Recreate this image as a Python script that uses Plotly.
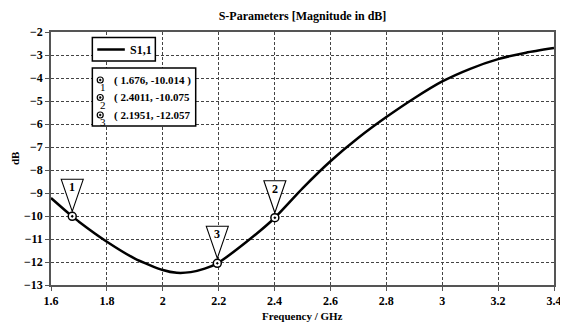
import plotly.graph_objects as go

# ---- data ----
freq = [1.6, 1.65, 1.676, 1.7, 1.8, 1.9, 2.0, 2.05, 2.1, 2.15, 2.1951, 2.3, 2.4011,
        2.5, 2.6, 2.7, 2.8, 2.9, 3.0, 3.1, 3.2, 3.3, 3.4]
s11_db = [-9.22, -9.75, -10.014, -10.25, -11.12, -11.85, -12.35, -12.47, -12.44, -12.29,
          -12.057, -11.12, -10.075, -8.8, -7.62, -6.6, -5.7, -4.88, -4.15, -3.6, -3.18,
          -2.9, -2.7]
series_name = "S1,1"
marker_ids = ["1", "2", "3"]
marker_x = [1.676, 2.4011, 2.1951]
marker_y = [-10.014, -10.075, -12.057]
marker_labels = ["( 1.676, -10.014 )", "( 2.4011, -10.075", "( 2.1951, -12.057"]
x_ticks = [1.6, 1.8, 2.0, 2.2, 2.4, 2.6, 2.8, 3.0, 3.2, 3.4]
x_ticktext = ["1.6", "1.8", "2", "2.2", "2.4", "2.6", "2.8", "3", "3.2", "3.4"]
y_ticks = list(range(-13, -1))

FONT = "Liberation Serif"
OFF = 8  # page body margin compensation
W, H = 568 - OFF, 325 - OFF
# plot area in reference page pixels: x 51..562, y 32..285
ML = 51 - OFF
MT = 32 - OFF
MR = W - (562 - OFF)
MB = H - (285 - OFF)

fig = go.Figure()
fig.add_trace(go.Scatter(x=freq, y=s11_db, mode="lines", name=series_name, showlegend=False,
                         line=dict(color="black", width=2.5, shape="spline", smoothing=0.6)))
fig.add_trace(go.Scatter(x=marker_x, y=marker_y, mode="markers", showlegend=False,
                         marker=dict(symbol="circle-dot", size=8, color="white",
                                     line=dict(color="black", width=1.5))))

pw = W - ML - MR
ph = H - MT - MB
def px(x):  # reference page pixel -> paper
    return (x - OFF - ML) / pw
def py(y):
    return 1 - (y - OFF - MT) / ph

shapes = []
annotations = []
# triangle flags above markers
for mid, mx, my in zip(marker_ids, marker_x, marker_y):
    shapes.append(dict(type="path", xref="x", yref="y", xsizemode="pixel", ysizemode="pixel",
                       xanchor=mx, yanchor=my, path="M -11,37 L 11,37 L 0,5 Z",
                       fillcolor="white", line=dict(color="black", width=1.1), layer="above"))
    annotations.append(dict(x=mx, y=my, xref="x", yref="y", text="<b>%s</b>" % mid,
                            showarrow=False, yshift=29, xanchor="center", yanchor="middle",
                            font=dict(family=FONT, size=12, color="black")))

# legend box (drawn)
shapes.append(dict(type="rect", xref="paper", yref="paper", x0=px(93), x1=px(157),
                   y0=py(61), y1=py(37.5), fillcolor="white", line=dict(color="black", width=1.5),
                   layer="above"))
shapes.append(dict(type="line", xref="paper", yref="paper", x0=px(98), x1=px(126),
                   y0=py(49.5), y1=py(49.5), line=dict(color="black", width=2.5), layer="above"))
annotations.append(dict(x=px(129), y=py(49.5), xref="paper", yref="paper",
                        text="<b>%s</b>" % series_name, showarrow=False, xanchor="left",
                        yanchor="middle", font=dict(family=FONT, size=12, color="black")))

# marker info box
shapes.append(dict(type="rect", xref="paper", yref="paper", x0=px(93), x1=px(198),
                   y0=py(126), y1=py(68), fillcolor="white", line=dict(color="black", width=1.5),
                   layer="above"))
for i, (mid, lab) in enumerate(zip(marker_ids, marker_labels)):
    yc = 80 + i * 17.5
    shapes.append(dict(type="circle", xref="paper", yref="paper", xsizemode="pixel", ysizemode="pixel",
                       xanchor=px(101), yanchor=py(yc), x0=-3, x1=3, y0=-3, y1=3,
                       fillcolor="white", line=dict(color="black", width=1.2), layer="above"))
    shapes.append(dict(type="circle", xref="paper", yref="paper", xsizemode="pixel", ysizemode="pixel",
                       xanchor=px(101), yanchor=py(yc), x0=-1, x1=1, y0=-1, y1=1,
                       fillcolor="black", line=dict(color="black", width=0.5), layer="above"))
    annotations.append(dict(x=px(104), y=py(yc + 7), xref="paper", yref="paper", text=mid,
                            showarrow=False, xanchor="center", yanchor="middle",
                            font=dict(family=FONT, size=11, color="black")))
    annotations.append(dict(x=px(113), y=py(yc), xref="paper", yref="paper", text="<b>%s</b>" % lab,
                            showarrow=False, xanchor="left", yanchor="middle",
                            font=dict(family=FONT, size=11, color="black")))

# axis titles
annotations.append(dict(x=0.5, y=py(316), xref="paper", yref="paper", text="<b>Frequency / GHz</b>",
                        showarrow=False, xanchor="center", yanchor="middle",
                        font=dict(family=FONT, size=11, color="black")))
annotations.append(dict(x=px(14), y=0.5, xref="paper", yref="paper", text="<b>dB</b>", textangle=-90,
                        showarrow=False, xanchor="center", yanchor="middle",
                        font=dict(family=FONT, size=11, color="black")))

axis_common = dict(showline=True, mirror=True, linecolor="#555", linewidth=1.5,
                   showgrid=True, gridcolor="#444", griddash="3px,2px", gridwidth=1,
                   ticks="outside", ticklen=4, tickcolor="#555", zeroline=False,
                   tickfont=dict(family=FONT, size=12, color="black", weight="bold"))

fig.update_layout(
    width=W, height=H, margin=dict(l=ML, r=MR, t=MT, b=MB),
    paper_bgcolor="white", plot_bgcolor="white",
    title=dict(text="<b>S-Parameters [Magnitude in dB]</b>", x=0.5, xref="paper", y=1 - (16 - OFF) / H,
               yanchor="middle", xanchor="center", font=dict(family=FONT, size=12, color="black")),
    xaxis=dict(range=[1.6, 3.4], tickvals=x_ticks, ticktext=x_ticktext, **axis_common),
    yaxis=dict(range=[-13, -2], tickvals=y_ticks, **axis_common),
    showlegend=False,
    shapes=shapes, annotations=annotations,
)

fig.write_html("out.html")
